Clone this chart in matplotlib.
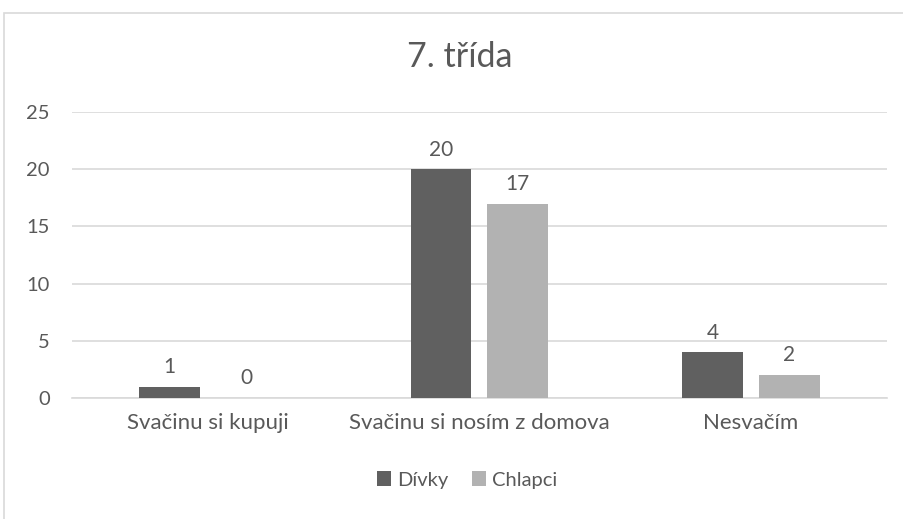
import matplotlib.pyplot as plt
from matplotlib.patches import Rectangle
import numpy as np

categories = ['Svačinu si kupuji', 'Svačinu si nosím z domova', 'Nesvačím']
divky = [1, 20, 4]
chlapci = [0, 17, 2]
series_names = ['Dívky', 'Chlapci']
yticks = [0, 5, 10, 15, 20, 25]

plt.rcParams['font.family'] = ['Lato', 'DejaVu Sans']
text_color = '#595959'
dark = '#606060'
light = '#b2b2b2'
fs = 14.5

fig = plt.figure(figsize=(9.04, 5.19), dpi=100)
ax = fig.add_axes([0.0796, 0.2331, 0.9014, 0.5509])

# outer chart border
fig.patches.append(Rectangle((4 / 904, -0.1), 1.2, 1 - 13 / 519 + 0.1, transform=fig.transFigure,
                             fill=False, edgecolor='#d9d9d9', linewidth=1.2))

x = np.arange(len(categories))
w = 0.224
off = 0.1415
b1 = ax.bar(x - off, divky, w, color=dark, label=series_names[0], zorder=3)
b2 = ax.bar(x + off, chlapci, w, color=light, label=series_names[1], zorder=3)

for bars in (b1, b2):
    for rect in bars:
        h = rect.get_height()
        ax.annotate(f'{int(h)}', (rect.get_x() + rect.get_width() / 2, h),
                    xytext=(0, 7), textcoords='offset points', ha='center', va='bottom',
                    fontsize=15, color=text_color)

ax.set_xlim(-0.5, 2.5)
ax.set_ylim(0, 25)
ax.set_yticks(yticks)
ax.set_xticks(x)
ax.set_xticklabels(categories, fontsize=16)
ax.yaxis.grid(True, color='#d9d9d9', linewidth=1.2, zorder=0)
for s in ['top', 'right', 'left']:
    ax.spines[s].set_visible(False)
ax.spines['bottom'].set_color('#d9d9d9')
ax.spines['bottom'].set_linewidth(1.2)
ax.tick_params(axis='both', length=0, colors=text_color)
ax.tick_params(axis='y', labelsize=fs, pad=16)
ax.tick_params(axis='x', pad=11)

fig.text(460 / 904, 1 - 57 / 519, '7. třída', ha='center', va='center', fontsize=24.5, color=text_color)

fig.legend(loc='center', bbox_to_anchor=(467 / 904, 1 - 480 / 519), ncol=2, frameon=False,
           fontsize=fs, handlelength=0.7, handleheight=0.7, handletextpad=0.3, columnspacing=1.2,
           labelcolor=text_color)

fig.savefig('out.png', dpi=100)
